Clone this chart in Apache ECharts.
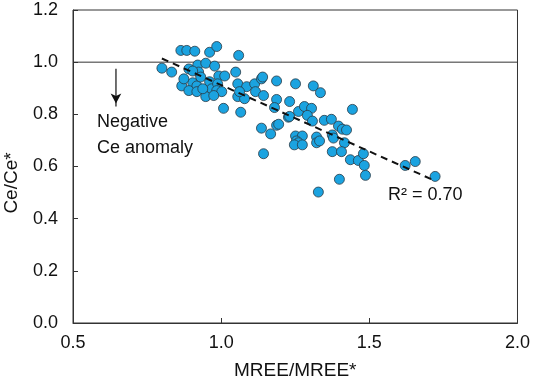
<!DOCTYPE html>
<html>
<head>
<meta charset="utf-8">
<script src="https://cdn.jsdelivr.net/npm/echarts@6/dist/echarts.min.js"></script>
<style>
  html, body { margin: 0; padding: 0; background: #fff; }
  #chart { width: 533px; height: 385px; }
</style>
</head>
<body>
<div id="chart"></div>
<script>
// MREE/MREE* values (x)
const mree = [
  0.800, 0.833, 0.864, 0.884, 0.911, 0.961, 0.985, 1.059, 0.891, 0.921,
  0.948, 0.978, 0.924, 0.904, 1.049, 0.992, 1.012, 0.867, 0.904, 0.918,
  0.891, 0.918, 0.948, 0.961, 0.968, 0.988, 0.985, 1.002, 0.975, 1.056,
  1.086, 1.113, 1.136, 1.140, 1.116, 1.143, 1.056, 1.079, 1.062, 1.187,
  1.187, 1.008, 1.066, 1.136, 1.187, 1.167, 0.874, 0.938, 0.931,
  1.251, 1.311, 1.335, 1.231, 1.261, 1.281, 1.305, 1.291, 1.308, 1.348,
  1.372, 1.443, 1.396, 1.409, 1.423, 1.180, 1.227, 1.194, 1.251, 1.274,
  1.254, 1.261, 1.322, 1.322, 1.375, 1.379, 1.416, 1.375, 1.406, 1.436,
  1.463, 1.480, 1.483, 1.487, 1.399, 1.328, 1.143, 1.231, 1.621, 1.655,
  1.722, 1.247, 1.274, 1.332
];
// Ce/Ce* values (y)
const ce = [
  0.977, 0.962, 1.045, 1.045, 1.042, 1.038, 1.060, 1.026, 0.974, 0.989,
  0.996, 0.985, 0.962, 0.966, 0.962, 0.947, 0.947, 0.909, 0.921, 0.909,
  0.891, 0.887, 0.868, 0.925, 0.898, 0.917, 0.891, 0.887, 0.872, 0.917,
  0.906, 0.917, 0.936, 0.943, 0.887, 0.872, 0.868, 0.860, 0.887, 0.928,
  0.857, 0.823, 0.808, 0.747, 0.758, 0.725, 0.936, 0.898, 0.943,
  0.917, 0.909, 0.883, 0.849, 0.811, 0.830, 0.823, 0.796, 0.774, 0.777,
  0.781, 0.819, 0.755, 0.743, 0.740, 0.826, 0.789, 0.762, 0.717, 0.717,
  0.698, 0.691, 0.713, 0.691, 0.721, 0.709, 0.691, 0.657, 0.657, 0.626,
  0.623, 0.649, 0.604, 0.566, 0.551, 0.502, 0.649, 0.792, 0.604, 0.619,
  0.562, 0.683, 0.683, 0.698
];
// regression line end points
const fitX = [0.80, 1.71];
const fitY = [1.014, 0.551];
// arrow for "negative Ce anomaly"
const arrowX = 0.645;
const arrowY = [0.975, 0.83];

const xTicks = [0.5, 1.0, 1.5, 2.0];
const yTicks = [0.0, 0.2, 0.4, 0.6, 0.8, 1.0, 1.2];

const font = "Liberation Sans";
const points = mree.map((x, i) => [x, ce[i]]);

const chart = echarts.init(document.getElementById("chart"));
const option = {
  animation: false,
  grid: {
    left: 73, right: 14, top: 10, bottom: 57,
    show: true,
    borderColor: "#333",
    borderWidth: 1,
  },
  xAxis: {
    type: "value",
    min: xTicks[0],
    max: xTicks[xTicks.length - 1],
    interval: 0.5,
    name: "MREE/MREE*",
    nameLocation: "middle",
    nameGap: 38,
    nameTextStyle: { fontFamily: font, fontSize: 19, color: "#111" },
    axisLine: { lineStyle: { color: "#333", width: 1 } },
    axisTick: { inside: true, length: 5, lineStyle: { color: "#333" } },
    axisLabel: {
      fontFamily: font, fontSize: 18, color: "#111", margin: 11,
      formatter: v => v.toFixed(1),
    },
    splitLine: { show: false },
  },
  yAxis: {
    type: "value",
    min: yTicks[0],
    max: yTicks[yTicks.length - 1],
    interval: 0.2,
    axisLine: { lineStyle: { color: "#333", width: 1 } },
    axisTick: { inside: true, length: 5, lineStyle: { color: "#333" } },
    axisLabel: {
      fontFamily: font, fontSize: 18, color: "#111", margin: 15,
      formatter: v => v.toFixed(1),
    },
    splitLine: { show: false },
  },
  series: [
    {
      type: "line",
      data: [[xTicks[0], 1.0], [xTicks[xTicks.length - 1], 1.0]],
      showSymbol: false,
      lineStyle: { color: "#333", width: 1 },
      silent: true,
      z: 1,
    },
    {
      type: "line",
      data: [[arrowX, arrowY[0]], [arrowX, arrowY[1]]],
      showSymbol: false,
      lineStyle: { color: "#111", width: 1.2 },
      silent: true,
      markPoint: {
        symbol: "arrow",
        symbolSize: [8, 10],
        symbolRotate: 180,
        itemStyle: { color: "#111" },
        label: { show: false },
        data: [{ coord: [arrowX, arrowY[1] + 0.012] }],
      },
    },
    {
      type: "scatter",
      data: points,
      symbolSize: 10,
      itemStyle: {
        color: "#1ba3e0",
        borderColor: "#2a3a45",
        borderWidth: 0.8,
        opacity: 1,
      },
      z: 3,
    },
    {
      type: "line",
      data: [[fitX[0], fitY[0]], [fitX[1], fitY[1]]],
      showSymbol: false,
      lineStyle: { color: "#111", width: 2, type: [7, 5] },
      silent: true,
      z: 4,
    },
  ],
  graphic: [
    {
      type: "text",
      x: 12,
      y: 183,
      rotation: Math.PI / 2,
      style: {
        text: "Ce/Ce*",
        font: "19px Liberation Sans",
        fill: "#111",
        align: "center",
        verticalAlign: "middle",
      },
    },
    {
      type: "text",
      left: 97,
      top: 109,
      style: {
        text: "Negative\nCe anomaly",
        font: "18px Liberation Sans",
        fill: "#111",
        lineHeight: 26,
      },
    },
    {
      type: "text",
      left: 388,
      top: 186,
      style: {
        text: "R² = 0.70",
        font: "18px Liberation Sans",
        fill: "#111",
      },
    },
  ],
};
chart.setOption(option);
</script>
</body>
</html>
